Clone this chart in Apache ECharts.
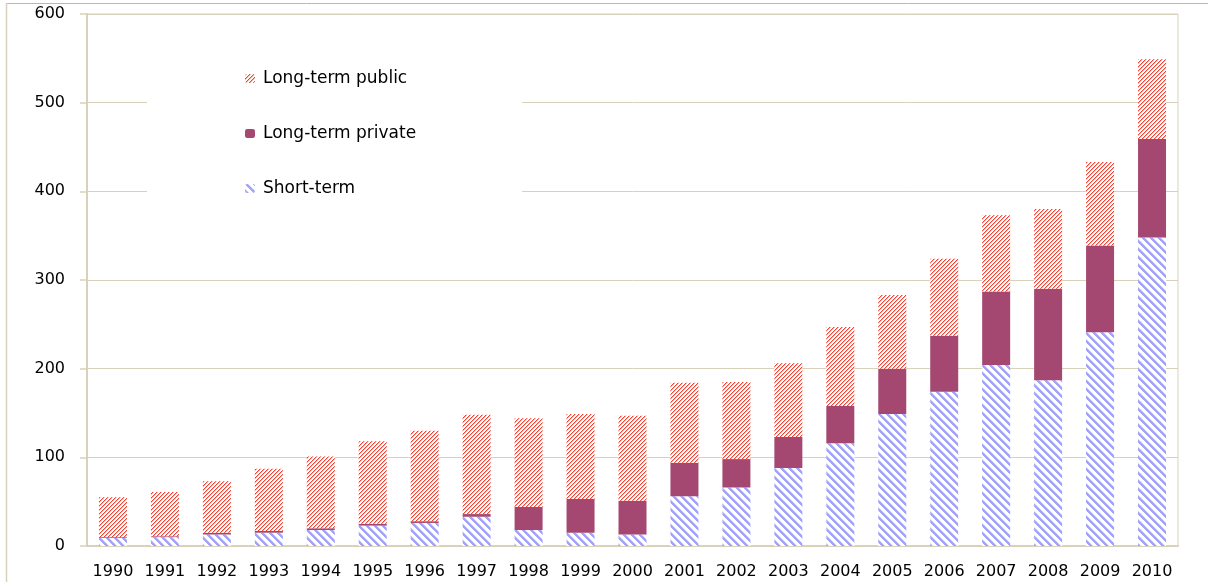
<!DOCTYPE html>
<html>
<head>
<meta charset="utf-8">
<script src="https://cdn.jsdelivr.net/npm/echarts@6/dist/echarts.min.js"></script>
<style>
  html, body { margin: 0; padding: 0; background: #fff; }
  #chart { width: 1208px; height: 582px; }
</style>
</head>
<body>
<div id="chart"></div>
<script>
var years = ["1990", "1991", "1992", "1993", "1994", "1995", "1996", "1997", "1998", "1999", "2000",
  "2001", "2002", "2003", "2004", "2005", "2006", "2007", "2008", "2009", "2010"];
var shortTerm = [9, 10, 13, 15, 18, 23, 26, 33, 18, 15, 13, 56, 66, 88, 116, 149, 174, 204, 187, 241, 348];
var longPrivate = [1, 1, 2, 2, 2, 2, 2, 3, 26, 38, 38, 38, 32, 35, 42, 51, 63, 83, 103, 98, 111];
var longPublic = [45, 50, 58, 70, 81, 93, 102, 112, 100, 96, 96, 90, 87, 83, 89, 83, 87, 86, 90, 94, 90];
var yTicks = [0, 100, 200, 300, 400, 500, 600];

// hatch fills
function hatch(size, pick) {
  var c = document.createElement("canvas");
  c.width = size; c.height = size;
  var ctx = c.getContext("2d");
  for (var x = 0; x < size; x++) {
    for (var y = 0; y < size; y++) {
      ctx.fillStyle = pick(x, y);
      ctx.fillRect(x, y, 1, 1);
    }
  }
  return { image: c, repeat: "repeat" };
}
var publicFill = hatch(4, function (x, y) {
  var d = (x + y) % 4;
  if (d == 0) return "#ef4433";
  if (d == 1) return "#fab5a8";
  return "#ffffff";
});
var shortFill = hatch(8, function (x, y) {
  var d = (x - y + 64) % 8;
  if (d < 3) return "#a3a3f7";
  if (d == 3) return "#d2d2fb";
  return "#ffffff";
});

var lineColor = "#d8d1bb";
var myChart = echarts.init(document.getElementById("chart"));
var option = {
  backgroundColor: "#fff",
  animation: false,
  graphic: [
    { type: "line", shape: { x1: 6, y1: 3.5, x2: 1208, y2: 3.5 }, style: { stroke: "#b8b8b8", lineWidth: 1 } },
    { type: "line", shape: { x1: 6.5, y1: 3, x2: 6.5, y2: 582 }, style: { stroke: lineColor, lineWidth: 1.5 } }
  ],
  grid: {
    left: 87,
    right: 30,
    top: 14,
    bottom: 36,
    show: true,
    borderColor: lineColor,
    borderWidth: 1
  },
  legend: {
    orient: "vertical",
    left: 147,
    top: 55,
    data: ["Long-term public", "Long-term private", "Short-term"],
    backgroundColor: "#fff",
    padding: [15, 106, 15, 98],
    itemWidth: 10,
    itemHeight: 9,
    itemGap: 38,
    textStyle: { fontFamily: "DejaVu Sans", fontSize: 17, color: "#000", padding: [0, 0, 0, 3] }
  },
  xAxis: {
    type: "category",
    data: years,
    axisLine: { lineStyle: { color: lineColor, width: 2 } },
    axisTick: { length: 6, lineStyle: { color: lineColor, width: 1.5 } },
    axisLabel: { fontFamily: "DejaVu Sans", fontSize: 16, color: "#000", margin: 18, interval: 0 }
  },
  yAxis: {
    type: "value",
    min: yTicks[0],
    max: yTicks[yTicks.length - 1],
    interval: 100,
    axisLine: { show: true, lineStyle: { color: lineColor, width: 2 } },
    axisTick: { show: true, length: 7, lineStyle: { color: lineColor, width: 1.5 } },
    splitLine: { lineStyle: { color: lineColor, width: 1 } },
    axisLabel: { fontFamily: "DejaVu Sans", fontSize: 16, color: "#000", margin: 22 }
  },
  series: [
    {
      name: "Short-term",
      type: "bar",
      stack: "debt",
      barWidth: 28,
      data: shortTerm,
      itemStyle: { color: shortFill }
    },
    {
      name: "Long-term private",
      type: "bar",
      stack: "debt",
      barWidth: 28,
      data: longPrivate,
      itemStyle: { color: "#a54871" }
    },
    {
      name: "Long-term public",
      type: "bar",
      stack: "debt",
      barWidth: 28,
      data: longPublic,
      itemStyle: { color: publicFill }
    }
  ]
};
myChart.setOption(option);
</script>
</body>
</html>
